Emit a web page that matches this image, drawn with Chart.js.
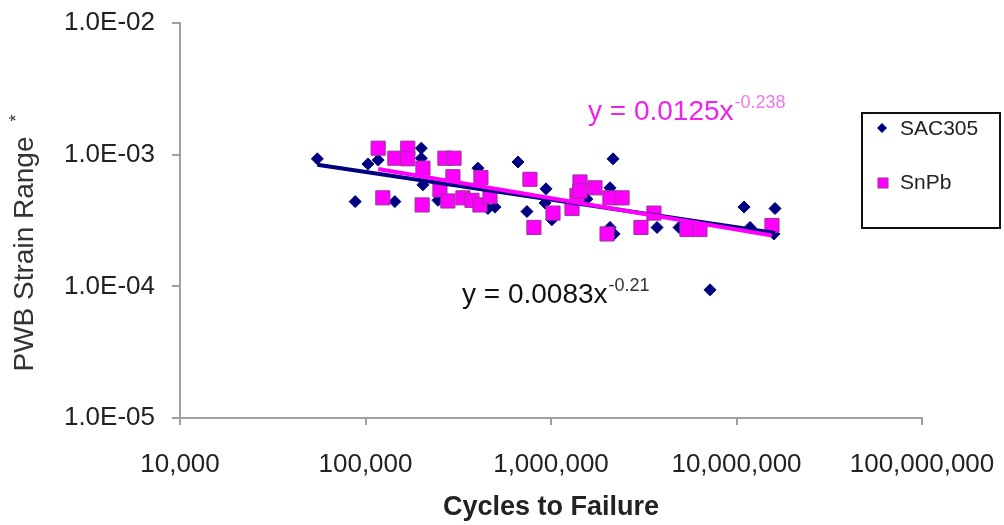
<!DOCTYPE html>
<html lang="en">

<head>
    <meta charset="UTF-8">
    <title>PWB Strain Range vs Cycles to Failure</title>
    <style>
        body {
            margin: 0;
            padding: 0;
            background-color: #ffffff;
            font-family: Arial, "Liberation Sans", sans-serif;
        }

        .chart-container {
            position: relative;
            width: 1004px;
            height: 525px;
        }
    </style>
</head>

<body>

    <div class="chart-container">
        <canvas id="chart1"></canvas>
    </div>

    <script src="https://cdn.jsdelivr.net/npm/chart.js"></script>

    <script>
        // SAC305 data (cycles to failure, PWB strain range)
        const sacCycles = [55000, 88000, 103000, 117000, 144000, 200000, 200000, 204000, 246000, 404000,
            457000, 499000, 664000, 742000, 929000, 940000, 1010000, 1560000, 2080000, 2080000,
            2160000, 2190000, 3730000, 4900000, 7200000, 10980000, 11830000, 15920000, 16130000];
        const sacStrain = [9.3e-4, 4.4e-4, 8.5e-4, 9.1e-4, 4.4e-4, 1.12e-3, 9.4e-4, 5.9e-4, 4.5e-4, 7.9e-4,
            3.9e-4, 4.0e-4, 8.8e-4, 3.7e-4, 4.3e-4, 5.5e-4, 3.2e-4, 4.6e-4, 5.6e-4, 2.8e-4,
            9.3e-4, 2.5e-4, 2.8e-4, 2.8e-4, 9.4e-5, 4.0e-4, 2.8e-4, 2.5e-4, 3.9e-4];

        // SnPb data
        const snpbCycles = [117000, 124000, 144000, 169000, 169000, 202000, 204000, 252000, 268000, 278000,
            296000, 300000, 335000, 375000, 414000, 419000, 469000, 770000, 809000, 1025000,
            1298000, 1380000, 1433000, 1433000, 1726000, 2005000, 2078000, 2416000, 3055000, 3589000,
            5407000, 6353000, 15530000];
        const snpbStrain = [1.12e-3, 4.7e-4, 9.4e-4, 1.12e-3, 9.3e-4, 4.15e-4, 7.9e-4, 5.4e-4, 9.4e-4, 4.45e-4,
            6.8e-4, 9.4e-4, 4.7e-4, 4.5e-4, 4.15e-4, 6.7e-4, 4.8e-4, 6.5e-4, 2.8e-4, 3.6e-4,
            3.9e-4, 4.9e-4, 6.2e-4, 5.3e-4, 5.6e-4, 2.5e-4, 4.7e-4, 4.7e-4, 2.8e-4, 3.6e-4,
            2.7e-4, 2.7e-4, 2.9e-4];

        // power-law fits y = a * x^b  (SAC305, SnPb)
        const fitNames = ['SAC305', 'SnPb'];
        const fitCoef = [0.0083, 0.0125];
        const fitExp = [-0.21, -0.238];

        // axis decades
        const xTicks = [1e4, 1e5, 1e6, 1e7, 1e8];
        const yTicks = [1e-5, 1e-4, 1e-3, 1e-2];

        const navy = '#000080';
        const magenta = '#ff00ff';
        const fonte = 'Arial, "Liberation Sans", sans-serif';

        function pontos(xs, ys) {
            return xs.map((x, i) => ({ x: x, y: ys[i] }));
        }

        // trendline drawn over the data's x range
        function tendencia(xs, i) {
            const x0 = Math.min(...xs);
            const x1 = Math.max(...xs);
            return [x0, x1].map(x => ({ x: x, y: fitCoef[i] * Math.pow(x, fitExp[i]) }));
        }

        function formatoExp(v) {
            const e = Math.round(Math.log10(v));
            const sinal = e < 0 ? '-' : '+';
            return '1.0E' + sinal + String(Math.abs(e)).padStart(2, '0');
        }

        // legend, equations and axis titles drawn on the canvas
        const extras = {
            id: 'extras',
            afterDraw(chart) {
                const ctx = chart.ctx;
                const area = chart.chartArea;
                ctx.save();

                // equations
                function equacao(txt, sup, x, y, cor, corSup) {
                    ctx.font = '28px ' + fonte;
                    ctx.fillStyle = cor;
                    ctx.textAlign = 'left';
                    ctx.textBaseline = 'alphabetic';
                    ctx.fillText(txt, x, y);
                    const w = ctx.measureText(txt).width;
                    ctx.font = '18px ' + fonte;
                    ctx.fillStyle = corSup;
                    ctx.fillText(sup, x + w + 1, y - 12);
                }
                equacao('y = 0.0125x', '-0.238', 588, 120, '#ee22ee', '#ee77ee');
                equacao('y = 0.0083x', '-0.21', 462, 303, '#111111', '#333333');

                // legend box
                ctx.strokeStyle = '#111111';
                ctx.lineWidth = 2;
                ctx.strokeRect(862, 113, 138, 115);
                ctx.font = '21px ' + fonte;
                ctx.textBaseline = 'middle';
                ctx.fillStyle = '#222222';
                ctx.fillText(fitNames[0], 900, 129);
                ctx.fillText(fitNames[1], 900, 183);
                // diamond
                ctx.fillStyle = navy;
                ctx.beginPath();
                ctx.moveTo(882, 123);
                ctx.lineTo(887, 128);
                ctx.lineTo(882, 133);
                ctx.lineTo(877, 128);
                ctx.closePath();
                ctx.fill();
                // square
                ctx.fillStyle = magenta;
                ctx.strokeStyle = '#993399';
                ctx.lineWidth = 1;
                ctx.fillRect(878, 178, 10, 10);
                ctx.strokeRect(878, 178, 10, 10);

                // axis titles
                ctx.fillStyle = '#222222';
                ctx.font = 'bold 27px ' + fonte;
                ctx.textAlign = 'center';
                ctx.textBaseline = 'middle';
                ctx.fillText('Cycles to Failure', (area.left + area.right) / 2, 508);

                ctx.translate(25, 254);
                ctx.rotate(-Math.PI / 2);
                ctx.font = '28px ' + fonte;
                ctx.fillStyle = '#333333';
                ctx.fillText('PWB Strain Range', 0, 0);
                ctx.font = '18px ' + fonte;
                ctx.fillText('*', 136, -8);
                ctx.restore();
            }
        };

        const ctx = document.getElementById('chart1').getContext('2d');
        new Chart(ctx, {
            type: 'scatter',
            data: {
                datasets: [{
                    label: fitNames[0],
                    data: pontos(sacCycles, sacStrain),
                    pointStyle: 'rectRot',
                    pointRadius: 6,
                    backgroundColor: navy,
                    borderColor: navy,
                    borderWidth: 1,
                    order: 4
                }, {
                    label: fitNames[1],
                    data: pontos(snpbCycles, snpbStrain),
                    pointStyle: 'rect',
                    pointRadius: 10,
                    backgroundColor: magenta,
                    borderColor: '#993399',
                    borderWidth: 1,
                    order: 3
                }, {
                    type: 'line',
                    label: 'SAC305 fit',
                    data: tendencia(sacCycles, 0),
                    borderColor: navy,
                    borderWidth: 4,
                    pointRadius: 0,
                    order: 2
                }, {
                    type: 'line',
                    label: 'SnPb fit',
                    data: tendencia(snpbCycles, 1),
                    borderColor: magenta,
                    borderWidth: 4,
                    pointRadius: 0,
                    order: 1
                }]
            },
            options: {
                responsive: true,
                maintainAspectRatio: false,
                animation: false,
                layout: {
                    padding: { top: 23, right: 82, left: 0, bottom: 0 }
                },
                plugins: {
                    legend: { display: false },
                    tooltip: { enabled: false }
                },
                scales: {
                    x: {
                        type: 'logarithmic',
                        min: 1e4,
                        max: 1e8,
                        afterBuildTicks: axis => {
                            axis.ticks = xTicks.map(v => ({ value: v }));
                        },
                        afterFit: axis => {
                            axis.height = 107;
                            axis.paddingLeft = 0;
                            axis.paddingRight = 0;
                        },
                        border: { color: '#a0a0a0', width: 2 },
                        grid: {
                            drawOnChartArea: false,
                            drawTicks: true,
                            tickLength: 7,
                            color: '#a0a0a0',
                            lineWidth: 2
                        },
                        ticks: {
                            autoSkip: false,
                            maxRotation: 0,
                            padding: 24,
                            color: '#222222',
                            font: { family: fonte, size: 26 },
                            callback: v => Number(v).toLocaleString('en-US')
                        }
                    },
                    y: {
                        type: 'logarithmic',
                        min: 1e-5,
                        max: 1e-2,
                        afterBuildTicks: axis => {
                            axis.ticks = yTicks.map(v => ({ value: v }));
                        },
                        afterFit: axis => {
                            axis.width = 180;
                            axis.paddingTop = 0;
                            axis.paddingBottom = 0;
                        },
                        border: { color: '#a0a0a0', width: 2 },
                        grid: {
                            drawOnChartArea: false,
                            drawTicks: true,
                            tickLength: 8,
                            color: '#a0a0a0',
                            lineWidth: 2
                        },
                        ticks: {
                            autoSkip: false,
                            padding: 17,
                            color: '#222222',
                            font: { family: fonte, size: 26 },
                            callback: v => formatoExp(v)
                        }
                    }
                }
            },
            plugins: [extras]
        });
    </script>

</body>

</html>
